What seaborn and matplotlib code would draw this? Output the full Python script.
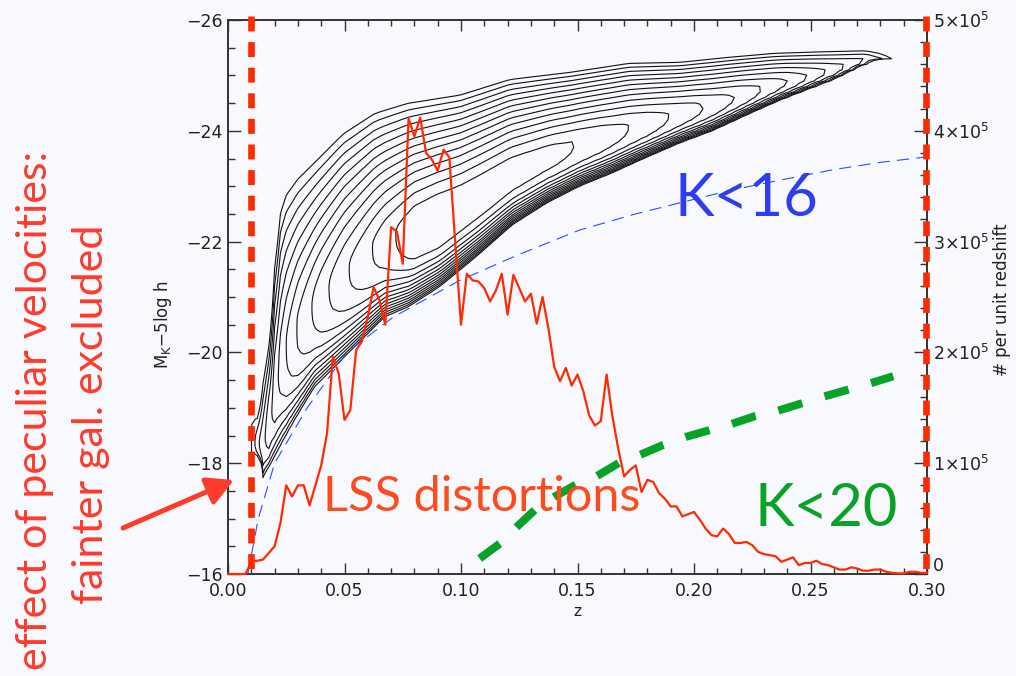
import numpy as np
import matplotlib
matplotlib.use("Agg")
import matplotlib.pyplot as plt
from matplotlib.ticker import MultipleLocator, FuncFormatter, FormatStrFormatter
from matplotlib.patches import FancyArrowPatch
import seaborn as sns

# ---------------------------------------------------------------- data
# redshift distribution, # per unit redshift (in thousands), bins of dz = 0.0025
hist_z = np.round(np.arange(121) * 0.0025, 4)
hist_n_k = [
    0, 0, 0, 0, 11, 12, 13, 19, 25, 46,
    80, 70, 80, 80, 62, 80, 98, 127, 196, 181,
    139, 148, 202, 210, 232, 259, 247, 225, 313, 309,
    280, 411, 395, 412, 380, 374, 364, 383, 376, 300,
    225, 271, 265, 264, 258, 246, 256, 271, 234, 270,
    258, 246, 253, 226, 250, 222, 187, 174, 186, 170,
    180, 165, 143, 134, 138, 180, 142, 113, 88, 94,
    98, 74, 85, 83, 73, 68, 61, 61, 52, 54,
    56, 49, 41, 35, 34, 41, 36, 28, 28, 29,
    26, 20, 18, 17, 16, 11, 13, 15, 8, 10,
    10, 12, 9, 8, 6, 4, 4, 6, 5, 3,
    3, 4, 4, 2, 1, 0.6, 0.6, 2, 2, 1,
    1,
]

# K < 16 absolute-magnitude limit
k16_z = [0.0085, 0.013, 0.020, 0.034, 0.051, 0.071, 0.0995, 0.125, 0.151,
         0.175, 0.194, 0.215, 0.237, 0.260, 0.280, 0.300]
k16_M = [-16.0, -17.0, -18.0, -19.0, -20.0, -20.64, -21.3, -21.77, -22.21,
         -22.5, -22.70, -22.92, -23.11, -23.30, -23.43, -23.53]

# K < 20 absolute-magnitude limit
k20_z = [0.108, 0.1167, 0.1239, 0.1318, 0.1403, 0.1496, 0.158, 0.168, 0.1768,
         0.1868, 0.1969, 0.2069, 0.2162, 0.2262, 0.2362, 0.2462, 0.2555,
         0.2655, 0.2755, 0.2855]
k20_M = [-16.28, -16.55, -16.85, -17.16, -17.40, -17.62, -17.76, -18.01, -18.15,
         -18.33, -18.48, -18.60, -18.71, -18.85, -18.95, -19.08, -19.20,
         -19.32, -19.44, -19.57]

# galaxy density in the (z, M) plane: bright and faint envelopes of the
# lowest contour, and the number of nested contour levels along z
bright_edge_z = [0.0095, 0.0114, 0.0143, 0.0179, 0.0186, 0.0205, 0.0220, 0.025,
                 0.030, 0.038, 0.0494, 0.063, 0.077, 0.0996, 0.121, 0.147,
                 0.172, 0.194, 0.215, 0.234, 0.255, 0.274, 0.285]
bright_edge_M = [-18.40, -18.54, -19.26, -20.22, -20.95, -21.75, -22.45, -22.85,
                 -23.14, -23.47, -23.95, -24.32, -24.50, -24.65, -24.93, -25.06,
                 -25.22, -25.24, -25.33, -25.40, -25.43, -25.45, -25.35]
faint_edge_z = [0.0095, 0.0114, 0.015, 0.0215, 0.0286, 0.0372, 0.0472, 0.0572,
                0.0672, 0.0773, 0.091, 0.108, 0.122, 0.137, 0.151, 0.165, 0.177,
                0.194, 0.208, 0.223, 0.237, 0.260, 0.274, 0.285]
faint_edge_M = [-18.35, -18.30, -17.73, -18.24, -18.78, -19.38, -19.80, -20.22,
                -20.64, -20.82, -21.19, -21.78, -22.30, -22.70, -23.00, -23.24,
                -23.47, -23.78, -24.00, -24.29, -24.55, -24.92, -25.20, -25.30]
depth_z = [0.010, 0.0125, 0.015, 0.0175, 0.020, 0.025, 0.030, 0.040, 0.050,
           0.060, 0.070, 0.080, 0.090, 0.100, 0.120, 0.140, 0.160, 0.180,
           0.200, 0.220, 0.240, 0.260, 0.270, 0.280, 0.285]
depth_n = [0, 1.6, 2.7, 3.7, 4.6, 6.0, 7.1, 8.6, 9.8, 10.8, 11.8, 12.8, 13,
           12.8, 12.6, 12.3, 11.6, 10.6, 9.3, 7.8, 6, 3.6, 2.4, 1.2, 0]
contour_levels = [0.05] + list(range(1, 13))

RIDGE_FRAC = 0.4      # position of the density ridge between the envelopes
P_BRIGHT = 1.4        # profile exponent on the bright side
P_FAINT = 3.5         # profile exponent on the faint side

# ---------------------------------------------------------------- style
BG = "#f8f8ff"
RED = "#ff2a00"
RED_TXT = "#ff4a1c"
RED_NOTE = "#ff3b2b"
BLUE = "#2a50ff"
BLUE_TXT = "#2e3df2"
GREEN = "#08a326"
AXC = "#333333"
LBL = "#222222"

sns.set_style("ticks")
plt.rcParams.update({
    "font.family": ["DejaVu Sans"],
    "mathtext.fontset": "dejavusans",
    "axes.edgecolor": AXC,
    "axes.linewidth": 1.2,
    "xtick.color": AXC,
    "ytick.color": AXC,
    "xtick.labelcolor": LBL,
    "ytick.labelcolor": LBL,
})

W, H = 1016, 676
fig = plt.figure(figsize=(W / 100, H / 100), dpi=100, facecolor=BG)


def fx(x):
    return x / W


def fy(y):
    return 1 - y / H


ax = fig.add_axes([fx(228), fy(574), (927 - 228) / W, (574 - 20) / H])
ax.set_facecolor(BG)

# ---------------------------------------------------------------- contours
zg = np.arange(0.0, 0.30001, 0.0025)
mg = np.arange(-26.0, -15.999, 0.1)
up = np.interp(zg, bright_edge_z, bright_edge_M)
lo = np.interp(zg, faint_edge_z, faint_edge_M)
depth = np.interp(zg, depth_z, depth_n, left=0.0, right=0.0)
ridge = lo + RIDGE_FRAC * (up - lo)
Zg, Mg = np.meshgrid(zg, mg)
R, U, L = ridge[None, :], up[None, :], lo[None, :]
bright = Mg < R
u = np.where(bright, (R - Mg) / np.maximum(R - U, 1e-3),
             (Mg - R) / np.maximum(L - R, 1e-3))
p = np.where(bright, P_BRIGHT, P_FAINT)
F = depth[None, :] * (1.0 - np.abs(u) ** p)
ax.contour(Zg, Mg, F, levels=contour_levels, colors="#111111",
           linewidths=0.8, zorder=2)

# ---------------------------------------------------------------- limit lines
sns.lineplot(x=k16_z, y=k16_M, ax=ax, color=BLUE, linewidth=0.8,
             linestyle=(0, (11, 6.5)), zorder=3)
sns.lineplot(x=k20_z, y=k20_M, ax=ax, color=GREEN, linewidth=5.8,
             linestyle=(0, (3.1, 2.9)), dash_capstyle="butt", zorder=3)

ax.set_xlim(0, 0.30)
ax.set_ylim(-16, -26)
ax.xaxis.set_major_locator(MultipleLocator(0.05))
ax.xaxis.set_minor_locator(MultipleLocator(0.01))
ax.xaxis.set_major_formatter(FormatStrFormatter("%.2f"))
ax.yaxis.set_major_locator(MultipleLocator(2))
ax.yaxis.set_minor_locator(MultipleLocator(0.5))
ax.tick_params(which="both", direction="in", top=True, right=False,
               labelsize=12.5, width=1.0)
ax.tick_params(axis="x", which="major", length=8, pad=6)
ax.tick_params(axis="x", which="minor", length=4.3)
ax.tick_params(axis="y", which="major", length=9.4, pad=4)
ax.tick_params(axis="y", which="minor", length=5)
ax.set_xlabel("")
ax.set_ylabel("")

# ---------------------------------------------------------------- redshift histogram
ax2 = ax.twinx()
hist_n = np.array(hist_n_k) * 1000.0
sns.lineplot(x=hist_z, y=hist_n, ax=ax2, color=RED, linewidth=1.6,
             clip_on=False, zorder=4)
ax2.set_ylim(0, 5e5)
ax2.yaxis.set_major_locator(MultipleLocator(1e5))
ax2.yaxis.set_minor_locator(MultipleLocator(2e4))


def sci_label(v, pos):
    n = int(round(v / 1e5))
    # the zero label is set slightly higher, clear of the x labels
    return "" if n == 0 else rf"${n}{{\times}}10^{{5}}$"


ax2.yaxis.set_major_formatter(FuncFormatter(sci_label))
ax2.tick_params(which="both", direction="in", right=True, left=False,
                labelsize=12.5, width=1.0)
ax2.tick_params(axis="y", which="major", length=9.4, pad=4)
ax2.tick_params(axis="y", which="minor", length=5)
ax2.set_ylabel("")
for s in ax2.spines.values():
    s.set_color(AXC)
    s.set_linewidth(1.2)
fig.text(fx(933), fy(566), "0", ha="left", va="center", fontsize=12.5,
         color=LBL)

# peculiar-velocity cut and survey edge
for zc in (0.01, 0.2995):
    ax2.plot([zc, zc], [5.035e5, 0], color=RED, linewidth=4.8,
             linestyle=(0, (2.24, 1.6)), dash_capstyle="butt",
             clip_on=False, zorder=6)

# ---------------------------------------------------------------- labels
fig.text(fx(577), fy(612), "z", ha="center", va="center", fontsize=11,
         color=LBL)
fig.text(fx(163), fy(325), r"M$_\mathrm{K}$$-$5log h", rotation=90,
         ha="center", va="center", fontsize=12, color=LBL)
fig.text(fx(1002), fy(300), "# per unit redshift", rotation=90,
         ha="center", va="center", fontsize=12, color=LBL)

big = dict(family=["Lato", "DejaVu Sans"], ha="center", va="baseline")
fig.text(fx(746), fy(216), "K<16", color=BLUE_TXT, fontsize=43, **big)
fig.text(fx(826), fy(526), "K<20", color=GREEN, fontsize=43, **big)
fig.text(fx(482), fy(511), "LSS distortions", color=RED_TXT, fontsize=35, **big)

note = dict(family=["Lato", "DejaVu Sans"], rotation=90, ha="center",
            va="center", color=RED_NOTE, fontsize=31)
fig.text(fx(35), fy(410), "effect of peculiar velocities:", **note)
fig.text(fx(91), fy(414), "fainter gal. excluded", **note)

arrow = FancyArrowPatch((fx(123), fy(528)), (fx(234), fy(480)),
                        transform=fig.transFigure,
                        arrowstyle="-|>,head_length=0.8,head_width=0.43",
                        mutation_scale=20, linewidth=3.6, color=RED_NOTE,
                        shrinkA=0, shrinkB=0)
fig.patches.append(arrow)

fig.savefig("out.png", dpi=100, facecolor=BG)
